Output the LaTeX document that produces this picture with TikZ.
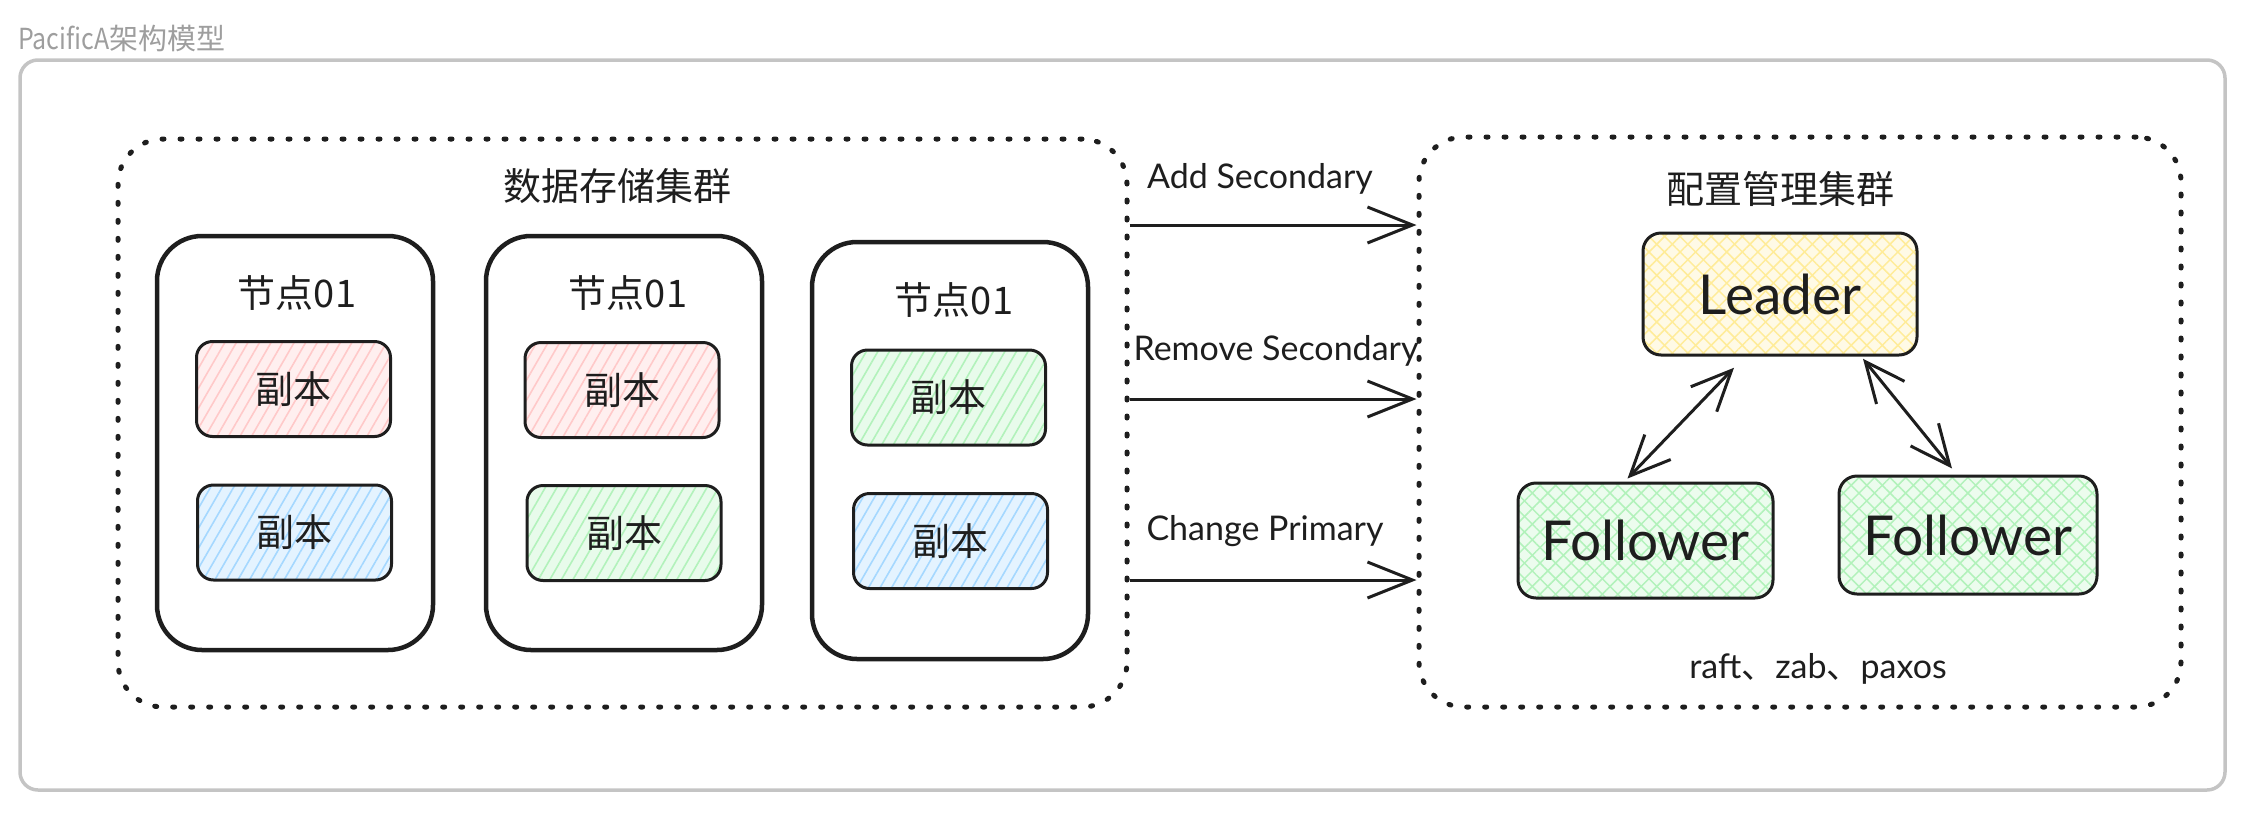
\documentclass[tikz,border=0pt]{standalone}
\usepackage{fontspec}
\setmainfont{Noto Sans CJK SC}
\newfontfamily\hand{Lato}
\usetikzlibrary{arrows.meta,patterns.meta,positioning}

\definecolor{pinkH}{HTML}{FFC9C9}
\definecolor{blueH}{HTML}{A5D8FF}
\definecolor{greenH}{HTML}{B2F2BB}
\definecolor{yellowH}{HTML}{FFEC99}
\definecolor{frameG}{HTML}{C4C4C4}
\definecolor{titleG}{HTML}{9E9E9E}
\definecolor{ink}{HTML}{1E1E1E}

\tikzset{
  cluster/.style={draw=ink, line width=5pt, line cap=round, dash pattern=on 2pt off 16pt, rounded corners=45pt},
  server/.style={draw=ink, line width=4.5pt, rounded corners=45pt, minimum width=276pt, minimum height=414pt},
  replica/.style={draw=ink, line width=3pt, rounded corners=16pt, minimum width=194pt, minimum height=95pt,
    preaction={fill=#1!30}, pattern={Lines[angle=60,distance=10pt,line width=1.6pt]}, pattern color=#1,
    font=\fontsize{38}{40}\selectfont},
  member/.style={draw=ink, line width=3pt, rounded corners=18pt, inner sep=2pt,
    preaction={fill=#1!25},
    preaction={pattern={Lines[angle=45,distance=11pt,line width=1.5pt]}, pattern color=#1},
    pattern={Lines[angle=-45,distance=11pt,line width=1.5pt]}, pattern color=#1,
    font=\hand\fontsize{55}{57}\selectfont},
  cjk/.style={font=\fontsize{38}{40}\selectfont},
  msg/.style={font=\hand\fontsize{34}{36}\selectfont},
  flow/.style={draw=ink, line width=3pt, -{Straight Barb[length=45pt,width=36pt]}},
  sync/.style={draw=ink, line width=3pt, {Straight Barb[length=40pt,width=36pt]}-{Straight Barb[length=40pt,width=36pt]}}
}

\begin{document}
\begin{tikzpicture}[x=1pt,y=-1pt,every node/.style={text=ink}]
            \useasboundingbox (0,0) rectangle (2244,812);

            % Frame and title
            \node[anchor=west, text=titleG, inner sep=0pt, font=\fontsize{29}{30}\selectfont] (title) at (18,38) {\scalebox{0.86}[1]{PacificA}架构模型};
            \node[draw=frameG, line width=3.5pt, rounded corners=18pt, minimum width=2205pt, minimum height=730pt] (frame) at (1122.5,425) {};

            % Clusters
            \node[cluster, minimum width=1009pt, minimum height=568pt] (storage) at (622.5,423) {};
            \node[cjk] (storagelbl) at (617,186) {数据存储集群};
            \node[cluster, minimum width=762pt, minimum height=570pt] (config) at (1800,422) {};
            \node[cjk] (configlbl) at (1780,189) {配置管理集群};

            % Data nodes
            \node[server] (srv1) at (295,443) {};
            \node[cjk] (srv1lbl) at (297,293) {节点01};
            \node[replica=pinkH] (rep1a) at (293.5,389) {副本};
            \node[replica=blueH] (rep1b) at (294.5,532.5) {副本};

            \node[server] (srv2) at (624,443) {};
            \node[cjk] (srv2lbl) at (628,293) {节点01};
            \node[replica=pinkH] (rep2a) at (622,390) {副本};
            \node[replica=greenH] (rep2b) at (624,533) {副本};

            \node[server, minimum height=417pt] (srv3) at (950,450.5) {};
            \node[cjk] (srv3lbl) at (954,300) {节点01};
            \node[replica=greenH] (rep3a) at (948.5,397.5) {副本};
            \node[replica=blueH] (rep3b) at (950.5,541) {副本};

            % Messages between the clusters
            \node[msg] (addlbl) at (1260,179) {Add Secondary};
            \draw[flow] (storage.east |- 0,225) -- (config.west |- 0,225);
            \node[msg] (removelbl) at (1276,351) {Remove Secondary};
            \draw[flow] (storage.east |- 0,399) -- (config.west |- 0,399);
            \node[msg] (changelbl) at (1265,531) {Change Primary};
            \draw[flow] (storage.east |- 0,580) -- (config.west |- 0,580);

            % Configuration members
            \node[member=yellowH, minimum width=274pt, minimum height=122pt] (leader) at (1780,294) {Leader};
            \node[member=greenH, minimum width=255pt, minimum height=115pt] (folL) at (1645.5,540.5) {Follower};
            \node[member=greenH, minimum width=258pt, minimum height=118pt] (folR) at (1968,535) {Follower};
            \draw[sync] ([xshift=-46pt,yshift=-12pt]leader.south) -- ([xshift=-18pt,yshift=3pt]folL.north);
            \draw[sync] ([xshift=83pt,yshift=-3pt]leader.south) -- ([xshift=-16pt,yshift=6pt]folR.north);
            \node[msg] (algolbl) at (1818,669) {raft{\rmfamily 、}zab{\rmfamily 、}paxos};
        \end{tikzpicture}
\end{document}
